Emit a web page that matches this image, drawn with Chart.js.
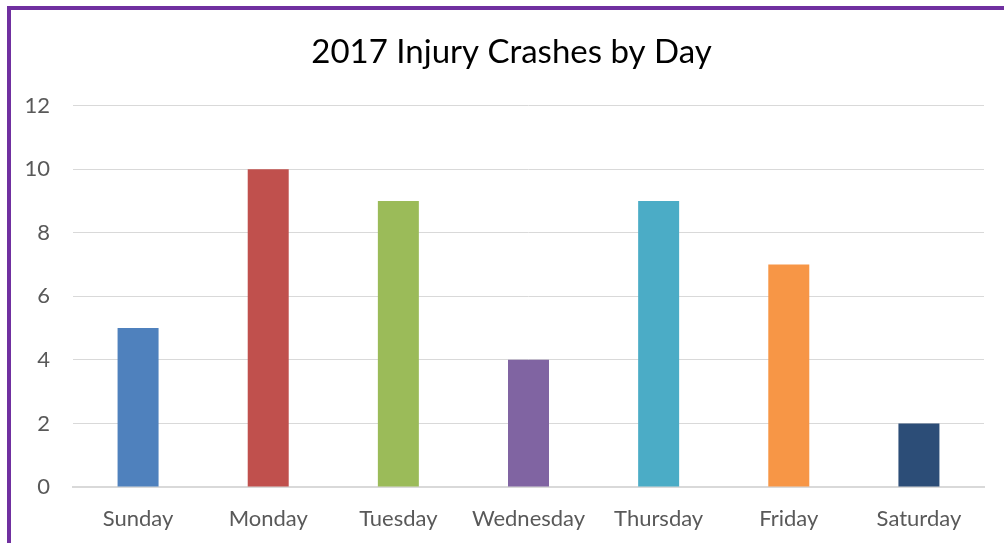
<!DOCTYPE html>
<html>
<head>
<meta charset="utf-8">
<script src="https://cdn.jsdelivr.net/npm/chart.js@4"></script>
<style>
  body { margin: 0; background: #fff; }
  #wrap { position: relative; width: 1004px; height: 543px; }
  #myChart { display: block; }
  #frameTop { position: absolute; left: 7px; top: 6px; right: 0; height: 4px; background: #7030A0; }
  #frameLeft { position: absolute; left: 7px; top: 6px; bottom: 0; width: 4px; background: #7030A0; }
</style>
</head>
<body>
<div id="wrap">
  <canvas id="myChart" width="1004" height="543"></canvas>
  <div id="frameTop"></div>
  <div id="frameLeft"></div>
</div>
<script>
var days = ['Sunday', 'Monday', 'Tuesday', 'Wednesday', 'Thursday', 'Friday', 'Saturday'];
var crashes = [5, 10, 9, 4, 9, 7, 2];
var barColors = ['#4F81BD', '#C0504D', '#9BBB59', '#8064A2', '#4BACC6', '#F79646', '#2C4D77'];

Chart.defaults.font.family = 'Lato, "Open Sans", sans-serif';
Chart.defaults.color = '#595959';

// the title is centred on the framed box, not on the canvas
var shiftTitle = {
    id: 'shiftTitle',
    afterLayout: function (chart) {
        var t = chart.titleBlock;
        if (t) {
            t.left = 39;
            t.right = 984;
            t.width = t.right - t.left;
        }
    }
};

var ctx = document.getElementById('myChart').getContext('2d');
var myChart = new Chart(ctx, {
    type: 'bar',
    data: {
        labels: days,
        datasets: [{
            label: 'Injury Crashes',
            data: crashes,
            backgroundColor: barColors,
            borderWidth: 0,
            categoryPercentage: 1,
            barPercentage: 0.315
        }]
    },
    plugins: [shiftTitle],
    options: {
        responsive: false,
        animation: false,
        layout: {
            padding: { top: 33, right: 20, bottom: 0, left: 0 }
        },
        plugins: {
            legend: { display: false },
            tooltip: { enabled: false },
            title: {
                display: true,
                text: '2017 Injury Crashes by Day',
                color: '#000',
                font: { size: 33, weight: 'normal' },
                padding: { top: 0, bottom: 33 }
            }
        },
        scales: {
            x: {
                grid: { display: false, drawTicks: false },
                border: { display: true, color: '#D9D9D9', width: 2 },
                ticks: { font: { size: 22 }, padding: 19, color: '#595959' },
                afterFit: function (scale) { scale.height = 56; }
            },
            y: {
                min: 0,
                max: 12,
                ticks: { stepSize: 2, font: { size: 22 }, padding: 23, color: '#595959' },
                grid: { color: '#D9D9D9', drawTicks: false },
                border: { display: false },
                afterFit: function (scale) { scale.width = 73; }
            }
        }
    }
});
</script>
</body>
</html>
